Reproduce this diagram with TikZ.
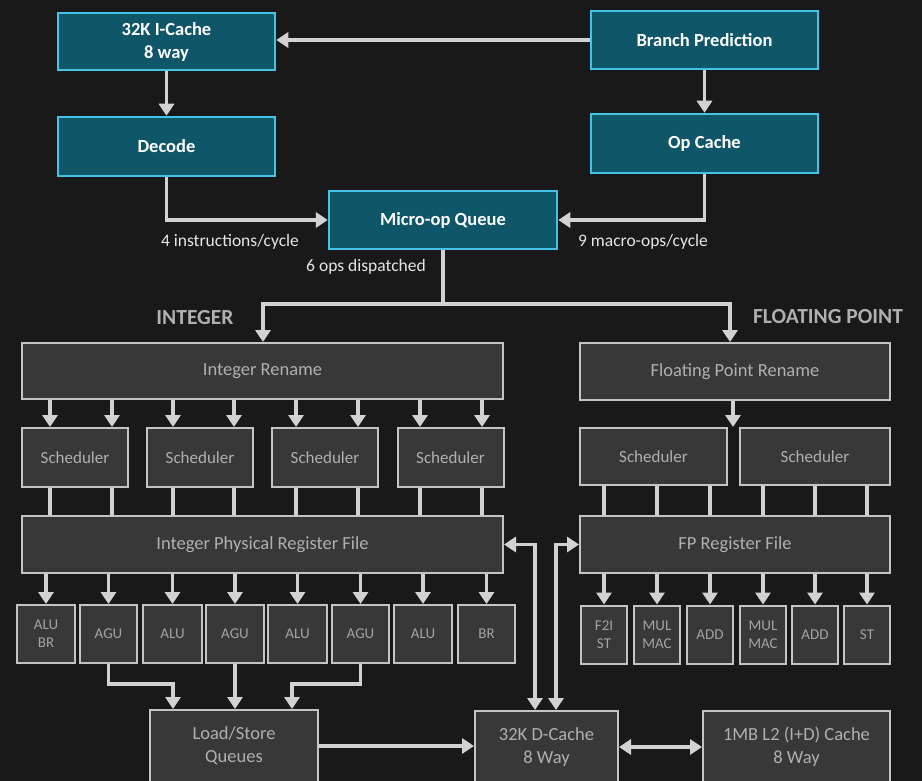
\documentclass[tikz,border=0pt]{standalone}
\usepackage{fontspec}
\setmainfont{Carlito}
\usetikzlibrary{arrows.meta,calc}
\definecolor{bg}{HTML}{191919}
\definecolor{tealfill}{HTML}{0E5668}
\definecolor{tealedge}{HTML}{45C3E6}
\definecolor{grayfill}{HTML}{383838}
\definecolor{grayedge}{HTML}{C4C4C4}
\definecolor{arrowc}{HTML}{D2D2D2}
\definecolor{graytext}{HTML}{B0B0B0}
\definecolor{unittext}{HTML}{A4A4A4}
\definecolor{lbltext}{HTML}{E6E6E6}
\begin{document}
\begin{tikzpicture}[x=1pt,y=-1pt,
  tealbox/.style={draw=tealedge, fill=tealfill, line width=2.5pt, text=white,
    font=\bfseries\fontsize{18.5}{23}\selectfont, align=center, inner sep=0pt},
  graybox/.style={draw=grayedge, fill=grayfill, line width=2pt, text=graytext,
    font=\fontsize{18.5}{23}\selectfont, align=center, inner sep=0pt},
  schedbox/.style={graybox, font=\fontsize{17}{20}\selectfont},
  unitbox/.style={graybox, text=unittext, font=\fontsize{15}{18}\selectfont, minimum height=58pt},
  arr/.style={draw=arrowc, line width=3.5pt, -{Triangle[width=15pt,length=12pt]}},
  darr/.style={draw=arrowc, line width=3.5pt, {Triangle[width=15pt,length=12pt]}-{Triangle[width=15pt,length=12pt]}},
  ln/.style={draw=arrowc, line width=3.5pt},
  lbl/.style={text=lbltext, font=\fontsize{17.5}{20}\selectfont, inner sep=0pt},
  head/.style={text=graytext, font=\bfseries\fontsize{21.5}{24}\selectfont, inner sep=0pt}
]
\clip (0,0) rectangle (922,781);
\fill[bg] (0,0) rectangle (922,781);

% front end
\node[tealbox, minimum width=217pt, minimum height=57pt] (ic)  at (166.5,41.5) {32K I-Cache\\8 way};
\node[tealbox, minimum width=227pt, minimum height=58pt] (bp)  at (704.5,40)   {Branch Prediction};
\node[tealbox, minimum width=217pt, minimum height=59pt] (dec) at (166.5,146.5) {Decode};
\node[tealbox, minimum width=227pt, minimum height=59pt] (opc) at (704.5,143.5) {Op Cache};
\node[tealbox, minimum width=228pt, minimum height=58pt] (moq) at (443,220)    {Micro-op Queue};

\draw[arr] (bp.west) -- (bp.west -| ic.east);
\draw[arr] (ic.south) -- (dec.north);
\draw[arr] (bp.south) -- (opc.north);
\draw[arr] (dec.south) |- (moq.west);
\draw[arr] (opc.south) |- (moq.east);

\node[lbl] (l4) at (230,242) {4 instructions/cycle};
\node[lbl] (l9) at (643,242) {9 macro-ops/cycle};
\node[lbl] (l6) at (366,267) {6 ops dispatched};

\node[head] (hint) at (195,318) {INTEGER};
\node[head] (hfp)  at (828,317) {FLOATING POINT};

% rename
\node[graybox, minimum width=481pt, minimum height=56pt] (irn) at (262.5,371) {Integer Rename};
\node[graybox, minimum width=310pt, minimum height=57pt] (frn) at (735,371.5) {Floating Point Rename};

\coordinate (split) at (443,304);
\draw[arr] (moq.south) -- (split) -| (irn.north -| 263,0);
\draw[arr] (split) -| (frn.north -| 730,0);

% integer schedulers
\foreach \n/\x in {1/75,2/200,3/325,4/450.5}
  \node[schedbox, minimum width=106pt, minimum height=59pt] (is\n) at (\x,457.5) {Scheduler};
\node[graybox, minimum width=481pt, minimum height=57pt] (iprf) at (262.5,544.5) {Integer Physical Register File};

\foreach \x in {50,112,173,234,296,358,420,482}{
  \draw[arr] (irn.south -| \x,0) -- (is1.north -| \x,0);
  \draw[ln] (is1.south -| \x,0) -- (iprf.north -| \x,0);
}

% integer units
\foreach \n/\x/\w/\t in {1/46/58/{ALU\\BR},2/108.5/57/AGU,3/172.5/59/ALU,4/235/58/AGU,5/297.5/59/ALU,6/360.5/57/AGU,7/423/58/ALU,8/486.5/57/BR}
  \node[unitbox, minimum width=\w pt] (iu\n) at (\x,634) {\t};
\foreach \n in {1,...,8}
  \draw[arr] (iprf.south -| iu\n.north) -- (iu\n.north);

% FP schedulers
\node[schedbox, minimum width=147pt, minimum height=57pt] (fs1) at (653.5,456.5) {Scheduler};
\node[schedbox, minimum width=150pt, minimum height=57pt] (fs2) at (815,456.5) {Scheduler};
\node[graybox, minimum width=310pt, minimum height=57pt] (fprf) at (735,544.5) {FP Register File};
\draw[arr] (frn.south -| 733,0) -- (fs1.north -| 733,0);

% FP units
\foreach \n/\x/\t in {1/604/{F2I\\ST},2/657/{MUL\\MAC},3/710/ADD,4/763/{MUL\\MAC},5/815/ADD,6/867/ST}
  \node[unitbox, minimum width=46pt] (fu\n) at (\x,634.5) {\t};
\foreach \n in {1,...,6}{
  \draw[ln] (fs1.south -| fu\n.north) -- (fprf.north -| fu\n.north);
  \draw[arr] (fprf.south -| fu\n.north) -- (fu\n.north);
}

% memory
\node[graybox, minimum width=168pt, minimum height=72pt] (lsq) at (234,746) {Load/Store\\Queues};
\node[graybox, minimum width=143pt, minimum height=72pt] (dc)  at (546.5,747) {32K D-Cache\\8 Way};
\node[graybox, minimum width=187pt, minimum height=72pt] (l2)  at (796.5,747) {1MB L2 (I+D) Cache\\8 Way};

\draw[arr] (iu2.south) -- ++(0,20) -| (lsq.north -| 173,0);
\draw[arr] (iu4.south) -- (lsq.north -| iu4.south);
\draw[arr] (iu6.south) -- ++(0,20) -| (lsq.north -| 292,0);

\draw[arr] (lsq.east) -- (lsq.east -| dc.west);
\draw[darr] (dc.east) -- (l2.west);
\draw[darr] (dc.north -| 535,0) |- (iprf.east);
\draw[darr] (dc.north -| 556,0) |- (fprf.west);
\end{tikzpicture}
\end{document}
